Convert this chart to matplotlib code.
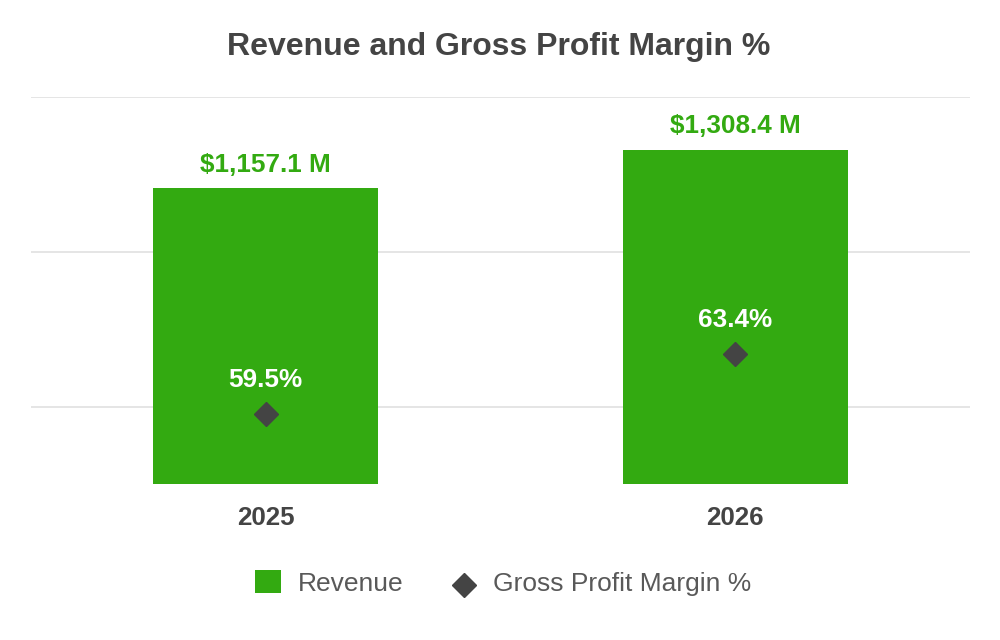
import matplotlib
matplotlib.use("Agg")
import numpy as np
import matplotlib.pyplot as plt
from matplotlib.patches import Patch
from matplotlib.lines import Line2D
from matplotlib.legend_handler import HandlerLine2D

plt.rcParams['font.family'] = ['Liberation Sans', 'DejaVu Sans']

# ---- data ----
years = ["2025", "2026"]
revenue = [1157.1, 1308.4]          # $M
revenue_labels = ["$1,157.1 M", "$1,308.4 M"]
gross_margin = [59.5, 63.4]         # %
margin_labels = ["59.5%", "63.4%"]
pct_ticks = [60, 70, 80]

GREEN = "#33AA11"
DARK = "#444444"
GRID = "#E5E5E5"

fig = plt.figure(figsize=(10, 6.4), dpi=100)
left, right = 31 / 1000, 970 / 1000
bottom, top = 1 - 484 / 640, 1 - 97 / 640
ax = fig.add_axes([left, bottom, right - left, top - bottom])   # grid layer (pct scale)
ax_b = ax.twinx()                                                # bars (revenue)
ax_p = ax.twinx()                                                # diamonds (pct)

x = list(range(len(years)))

# grid layer
ax.set_ylim(55, 80)
ax.set_yticks(pct_ticks)
ax.grid(axis='y', color=GRID, linewidth=1.4)
ax.set_axisbelow(True)

# bars
ax_b.bar(x, revenue, width=0.48, color=GREEN)
ax_b.set_ylim(0, 1515)
for xi, v, lab in zip(x, revenue, revenue_labels):
    ax_b.annotate(lab, xy=(xi, v), xytext=(0, 11.9), textcoords='offset points',
                  ha='center', va='baseline', fontsize=18.8, fontweight='bold',
                  color=GREEN)

# diamonds
ax_p.set_ylim(55, 80)
ax_p.plot(x, gross_margin, linestyle='none', marker='D', markersize=12,
          color=DARK)
for xi, v, lab in zip(x, gross_margin, margin_labels):
    ax_p.annotate(lab, xy=(xi, v), xytext=(0, 19.4), textcoords='offset points',
                  ha='center', va='baseline', fontsize=18.8, fontweight='bold',
                  color='white')

for a in (ax, ax_b, ax_p):
    a.set_xlim(-0.5, len(years) - 0.5)
    for s in a.spines.values():
        s.set_visible(False)
    a.tick_params(axis='y', length=0, labelleft=False, labelright=False)
    a.patch.set_visible(False)

ax.set_xticks(x)
ax.set_xticklabels(years, fontsize=18.6, fontweight='bold', color=DARK)
ax.tick_params(axis='x', length=0, pad=16)
ax_b.tick_params(axis='x', length=0, labelbottom=False)
ax_p.tick_params(axis='x', length=0, labelbottom=False)

fig.text(0.499, 1 - 54.5 / 640, "Revenue and Gross Profit Margin %",
         ha='center', va='baseline', fontsize=23, fontweight='bold', color=DARK)


class ShiftedLineHandler(HandlerLine2D):
    def __init__(self, dy=0.0, **kw):
        super().__init__(**kw)
        self.dy = dy

    def create_artists(self, legend, orig_handle, xdescent, ydescent, width,
                       height, fontsize, trans):
        arts = super().create_artists(legend, orig_handle, xdescent, ydescent,
                                      width, height, fontsize, trans)
        for a in arts:
            a.set_ydata(np.asarray(a.get_ydata(), dtype=float) + self.dy)
        return arts


diamond_handle = Line2D([], [], linestyle='none', marker='D', markersize=12, color=DARK)
handles = [Patch(facecolor=GREEN, edgecolor='none'), diamond_handle]
leg = fig.legend(handles, ["Revenue", "Gross Profit Margin %"], loc='center',
                 bbox_to_anchor=(503.5 / 1000, 1 - 583 / 640), ncol=2, frameon=False,
                 fontsize=19, handlelength=0.985, handleheight=0.985,
                 handletextpad=0.61, columnspacing=1.82, borderpad=0,
                 borderaxespad=0,
                 handler_map={diamond_handle: ShiftedLineHandler(dy=-3.4)})
for t in leg.get_texts():
    t.set_color("#595959")

fig.savefig("out.png", dpi=100, facecolor='white')
